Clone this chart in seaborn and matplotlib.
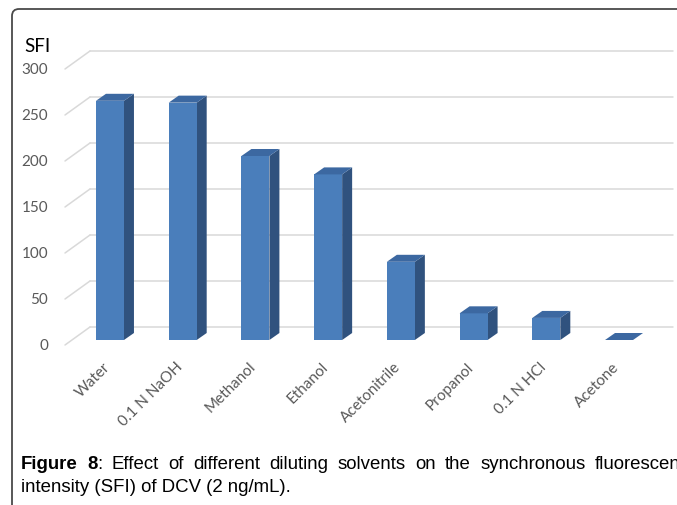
import matplotlib
matplotlib.use("Agg")
import matplotlib.pyplot as plt
import seaborn as sns
import pandas as pd
from matplotlib.transforms import ScaledTranslation, IdentityTransform
from matplotlib.patches import Polygon, FancyBboxPatch

# Synchronous fluorescence intensity of DCV in each diluting solvent
solvents = ["Water", "0.1 N NaOH", "Methanol", "Ethanol", "Acetonitrile",
            "Propanol", "0.1 N HCl", "Acetone"]
sfi = [260, 258, 200, 180, 85, 29, 24, 0]
y_ticks = [0, 50, 100, 150, 200, 250, 300]
y_label = "SFI"
caption_bold = ["Figure", "8"]
caption_line1 = ["Effect", "of", "different", "diluting", "solvents", "on",
                 "the", "synchronous", "fluorescence"]
caption_line2 = "intensity (SFI) of DCV (2 ng/mL)."

W, H, DPI = 677, 506, 100
sns.set_theme(style="white")
plt.rcParams["font.family"] = ["Lato", "DejaVu Sans"]

FRONT = "#4A7EBB"
SIDE = "#30527E"
TOP = "#3C68A1"
GRID = "#D9D9D9"
TICK = "#595959"

fig = plt.figure(figsize=(W / DPI, H / DPI), dpi=DPI)
fig.patch.set_facecolor("white")

# plotting area in pixels (measured from the top of the figure)
x_left, x_right = 73.6, 655.4
y_base, y_top = 341.0, 65.0
ax = fig.add_axes([x_left / W, (H - y_base) / H,
                   (x_right - x_left) / W, (y_base - y_top) / H])
ax.set_facecolor("none")

df = pd.DataFrame({"solvent": solvents, "sfi": sfi})
sns.barplot(data=df, x="solvent", y="sfi", color=FRONT, saturation=1,
            width=0.385, linewidth=0, ax=ax, zorder=3)
ax.set_xlim(-0.5, len(solvents) - 0.5)
ax.set_ylim(0, 300)
ax.set_xlabel("")
ax.set_ylabel("")
ax.set_xticks([])
ax.set_yticks([])
for s in ax.spines.values():
    s.set_visible(False)

step = (x_right - x_left) / len(solvents)
ppu_y = (y_base - y_top) / 300.0


def px_to_x(px):
    return (px - x_left) / step - 0.5


def off(dx, dy):
    """transData shifted by dx px right and dy px up."""
    return ax.transData + ScaledTranslation(dx / DPI, dy / DPI, fig.dpi_scale_trans)


# back wall gridlines and the left floor/wall diagonals
wall_up = 13
for v in y_ticks:
    ax.plot([px_to_x(90), px_to_x(673)], [v, v], color=GRID, lw=1.1,
            transform=off(0, wall_up), clip_on=False, zorder=1)
    x0, x1 = px_to_x(65), px_to_x(90)
    y0 = v - 5 / ppu_y
    y1 = v + wall_up / ppu_y
    ax.plot([x0, x1], [y0, y1], color=GRID, lw=1.1, clip_on=False, zorder=1)

# depth faces of each bar
dx_d = 10 / step
dy_d = 7 / ppu_y
for p in ax.patches:
    xl = p.get_x()
    xr = xl + p.get_width()
    h = p.get_height()
    side = Polygon([(xr, 0), (xr, h), (xr + dx_d, h + dy_d), (xr + dx_d, dy_d)],
                   closed=True, facecolor=SIDE, edgecolor="none", zorder=2.9,
                   clip_on=False)
    top = Polygon([(xl, h), (xr, h), (xr + dx_d, h + dy_d), (xl + dx_d, h + dy_d)],
                  closed=True, facecolor=TOP, edgecolor="none", zorder=3.1,
                  clip_on=False)
    ax.add_patch(side)
    ax.add_patch(top)

# value axis labels
for v in y_ticks:
    ax.text(px_to_x(48), v, str(v), ha="right", va="center", fontsize=11,
            color=TICK, transform=off(0, -5), clip_on=False)

# category labels
for i, name in enumerate(solvents):
    ax.text(i, 0, name, rotation=45, rotation_mode="anchor", ha="right",
            va="top", fontsize=11, color=TICK, transform=off(-7, -19),
            clip_on=False)

fig.text(24 / W, 1 - 46 / H, y_label, ha="left", va="center", fontsize=13.5,
         color="black")

# frame around the figure panel, rounded at the top-left corner
frame = FancyBboxPatch((12, -30), 720, H - 10 + 30,
                       boxstyle="round,pad=0,rounding_size=7",
                       transform=IdentityTransform(), facecolor="none",
                       edgecolor="#4A4A4A", lw=1.3)
fig.add_artist(frame)

# caption, first line justified
cap_font = dict(family=["Liberation Sans", "DejaVu Sans"], fontsize=13.4,
                color="black", va="baseline", ha="left")
renderer = fig.canvas.get_renderer()


def width_of(s, weight):
    t = fig.text(0, 0, s, fontweight=weight, **cap_font)
    w = t.get_window_extent(renderer).width
    t.remove()
    return w


words = [[(caption_bold[0], "bold")],
         [(caption_bold[1], "bold"), (":", "normal")]]
words += [[(w, "normal")] for w in caption_line1]
wid = [sum(width_of(s, wt) for s, wt in word) for word in words]
start, end = 21.0, 700.0
gap = (end - start - sum(wid)) / (len(words) - 1)
x = start
base1 = 469
for word, ww in zip(words, wid):
    xx = x
    for s, wt in word:
        fig.text(xx / W, 1 - base1 / H, s, fontweight=wt, **cap_font)
        xx += width_of(s, wt)
    x += ww + gap

fig.text(21 / W, 1 - 492 / H, caption_line2, **cap_font)

fig.savefig("out.png", dpi=DPI)
